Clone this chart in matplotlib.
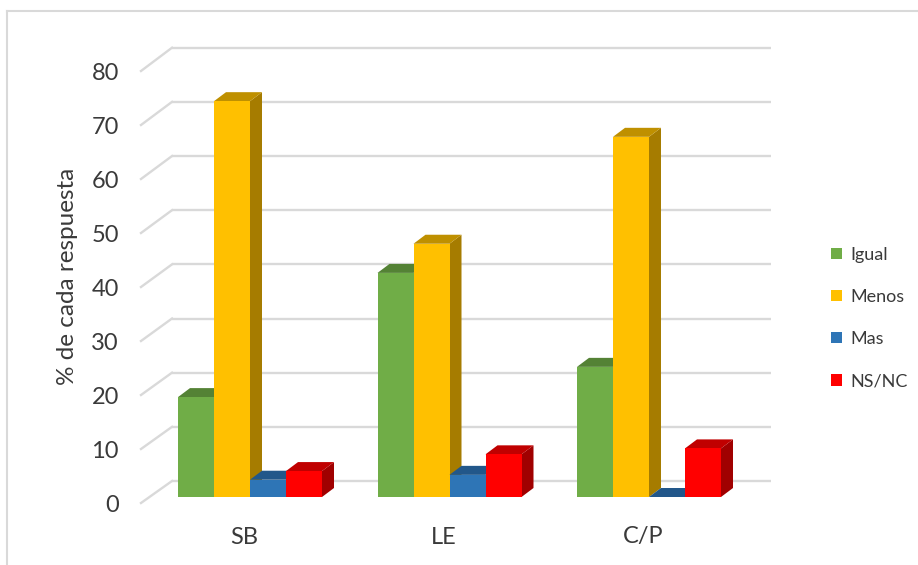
import numpy as np
import matplotlib
matplotlib.use("Agg")
import matplotlib.pyplot as plt
from matplotlib.patches import Polygon, Patch
from matplotlib.lines import Line2D

plt.rcParams['font.family'] = ['Lato', 'DejaVu Sans']

categories = ['SB', 'LE', 'C/P']
series = ['Igual', 'Menos', 'Mas', 'NS/NC']
igual = [18.5, 41.5, 24.1]
menos = [73.3, 46.9, 66.7]
mas = [3.2, 4.1, 0.0]
nsnc = [4.8, 7.9, 9.0]
yticks = [0, 10, 20, 30, 40, 50, 60, 70, 80]

front_col = ['#70AD47', '#FFC000', '#2E75B6', '#FF0000']
top_col = ['#548235', '#BF9000', '#22578A', '#C00000']
side_col = ['#4E7A30', '#A67C00', '#1F4E79', '#A00000']

W, H = 918, 565
# pixel geometry of the (fake 3d) plot
px_group = 199.5      # px per category step
px_val = 5.4          # px per value unit
x0_px = 250.0         # first group centre
y0_px = 497.0         # baseline of bars (from top)

fig = plt.figure(figsize=(W / 100, H / 100), dpi=100)
ax = fig.add_axes([0, 0, 1, 1])
ax.set_xlim(-x0_px / px_group, (W - x0_px) / px_group)
ax.set_ylim(-(H - y0_px) / px_val, y0_px / px_val)
ax.axis('off')

def px(dx):
    return dx / px_group

def pv(dy):
    return dy / px_val

# chart frame (only top and left are inside the image)
fig.add_artist(Line2D([7 / W, 7 / W], [0, 1 - 11 / H], color='#D9D9D9', lw=1.5))
fig.add_artist(Line2D([7 / W, 1], [1 - 11 / H, 1 - 11 / H], color='#D9D9D9', lw=1.5))

# back wall gridlines + side wall diagonals
back_l = px(172 - x0_px)
back_r = px(771 - x0_px)
front_l = px(141 - x0_px)
for v in yticks:
    yb = v + pv(16 + 0.03 * v * px_val / 10)
    yf = v - pv(6)
    ax.plot([back_l, back_r], [yb, yb], color='#D9D9D9', lw=1.7, zorder=1,
            solid_capstyle='butt')
    ax.plot([front_l, back_l], [yf, yb], color='#D9D9D9', lw=1.7, zorder=1)
    ax.text(px(119 - x0_px), yf - pv(2.5), str(v), ha='right', va='center',
            fontsize=17, color='#3A3A3A')

# bars
bw = px(36)
ddx = px(12)
ddy = pv(9)
data = [igual, menos, mas, nsnc]
for g in range(len(categories)):
    for s in range(len(series)):
        h = data[s][g]
        xl = g - 2 * bw + s * bw
        xr = xl + bw
        side = Polygon([(xr, 0), (xr + ddx, ddy), (xr + ddx, h + ddy), (xr, h)],
                       closed=True, facecolor=side_col[s], edgecolor='none', zorder=3)
        top = Polygon([(xl, h), (xl + ddx, h + ddy), (xr + ddx, h + ddy), (xr, h)],
                      closed=True, facecolor=top_col[s], edgecolor='none', zorder=3)
        ax.add_patch(side)
        ax.add_patch(top)
        ax.bar(xl, h, width=bw, align='edge', color=front_col[s], zorder=3)

for g, c in enumerate(categories):
    ax.text(g - px(6), pv(-40), c, ha='center', va='center', fontsize=17,
            color='#3A3A3A')

fig.text(68 / W, 1 - 276 / H, '% de cada respuesta', rotation=90, ha='center',
         va='center', fontsize=17.5, color='#3A3A3A')

handles = [Patch(facecolor=front_col[i], edgecolor='none') for i in range(4)]
fig.legend(handles, series, loc='center left', bbox_to_anchor=(831 / W, 1 - 318 / H),
           frameon=False, fontsize=13, handlelength=0.6, handleheight=0.6,
           handletextpad=0.45, labelspacing=1.45, labelcolor='#3A3A3A',
           borderpad=0, borderaxespad=0)

fig.savefig('out.png', dpi=100)
